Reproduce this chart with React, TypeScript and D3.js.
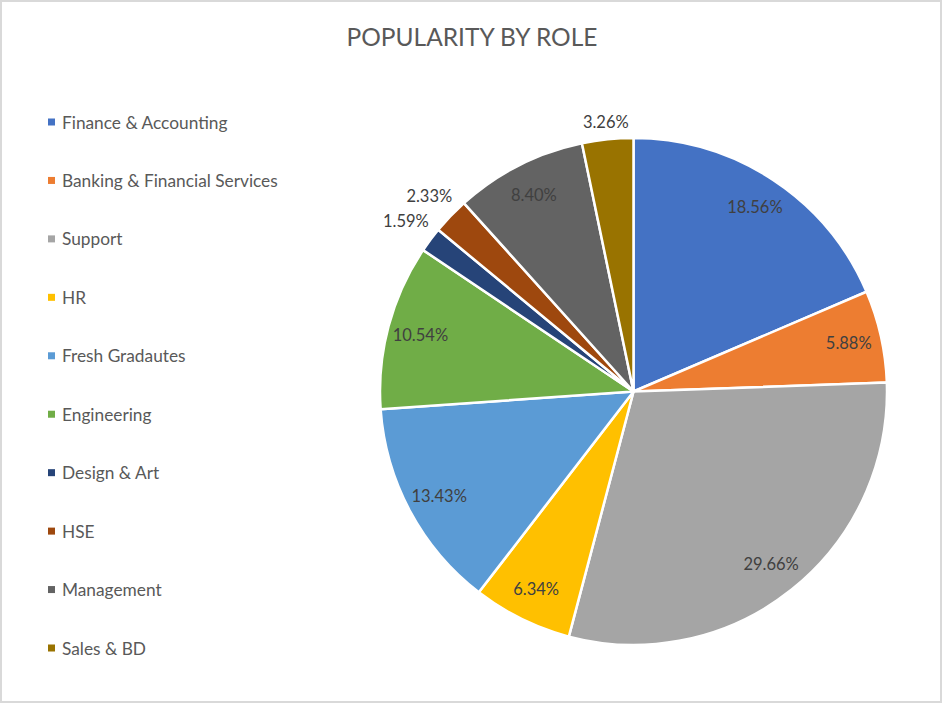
import React from "react";
import * as d3 from "d3";

const categories = [
  "Finance & Accounting",
  "Banking & Financial Services",
  "Support",
  "HR",
  "Fresh Gradautes",
  "Engineering",
  "Design & Art",
  "HSE",
  "Management",
  "Sales & BD",
];
const values = [18.56, 5.88, 29.66, 6.34, 13.43, 10.54, 1.59, 2.33, 8.4, 3.26];
const colors = [
  "#4472C4", "#ED7D31", "#A5A5A5", "#FFC000", "#5B9BD5",
  "#70AD47", "#264478", "#9E480E", "#636363", "#997300",
];
const title = "POPULARITY BY ROLE";

const W = 942;
const H = 703;
const FONT = "Lato, 'Open Sans', sans-serif";

export default function App() {
  const cx = 633.5;
  const cy = 391.5;
  const r = 253.5;
  const pie = d3.pie<number>().sort(null).value((d) => d)(values);
  const arc = d3.arc<d3.PieArcDatum<number>>().innerRadius(0).outerRadius(r);
  const legendY = d3.scalePoint<string>().domain(categories).range([122, 648]);

  return (
    <svg
      width={W}
      height={H}
      style={{ position: "fixed", left: 0, top: 0, background: "#fff" }}
      fontFamily={FONT}
    >
      <rect x={1} y={1} width={W - 2} height={H - 2} fill="#fff" stroke="#D9D9D9" strokeWidth={2} />
      <text x={472} y={36} textAnchor="middle" dominantBaseline="central" fontSize={24.5} fill="#595959">
        {title}
      </text>
      <g transform={`translate(${cx},${cy})`}>
        {pie.map((p, i) => (
          <path key={i} d={arc(p) || ""} fill={colors[i]} stroke="#fff" strokeWidth={2.5} strokeLinejoin="round" />
        ))}
        {pie.map((p, i) => {
          const mid = (p.startAngle + p.endAngle) / 2;
          const s = Math.sin(mid);
          const c = -Math.cos(mid);
          const small = values[i] < 5;
          const label = values[i].toFixed(2) + "%";
          let dist = r * 0.87;
          if (small) dist = r + 6 + 24 * Math.abs(s) + 9 * Math.abs(c);
          return (
            <text
              key={"l" + i}
              x={dist * s}
              y={dist * c}
              textAnchor="middle"
              dominantBaseline="central"
              fontSize={16.5}
              fill="#404040"
            >
              {label}
            </text>
          );
        })}
      </g>
      {categories.map((cat, i) => {
        const y = legendY(cat) as number;
        return (
          <g key={cat}>
            <rect x={48} y={y - 3.5} width={7} height={7} fill={colors[i]} />
            <text x={62} y={y} dominantBaseline="central" fontSize={17.3} fill="#595959">
              {cat}
            </text>
          </g>
        );
      })}
    </svg>
  );
}
